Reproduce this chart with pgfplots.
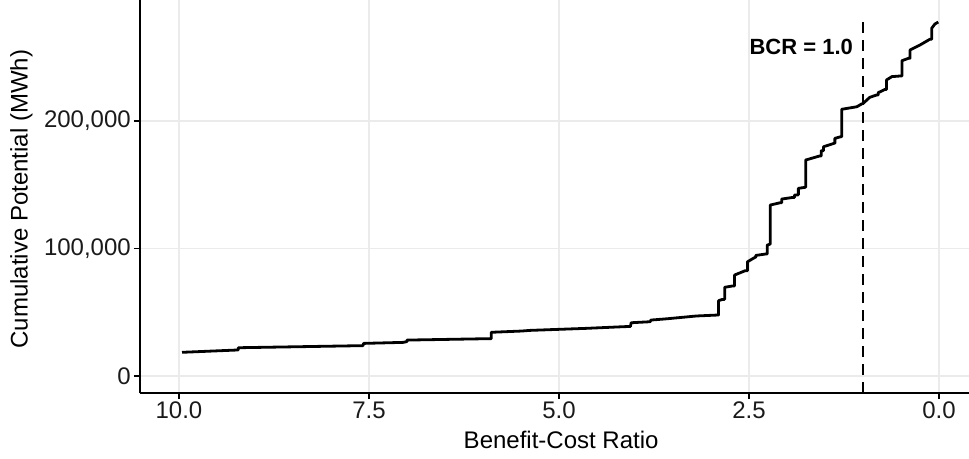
\documentclass[border=0pt]{standalone}
\usepackage{pgfplots}
\pgfplotsset{compat=1.18}
\usepackage{fontspec}
\setmainfont{Liberation Sans}
\definecolor{gridgray}{HTML}{EBEBEB}
\definecolor{ticktext}{HTML}{1A1A1A}
\begin{document}
\begin{tikzpicture}
\begin{axis}[
  scale only axis, width=829bp, height=393bp,
  x dir=reverse,
  xmin=-0.395, xmax=10.513, ymin=-13300, ymax=294900,
  axis x line*=bottom, axis y line*=left,
  axis line style={black, line width=2bp},
  xtick={0,2.5,5,7.5,10}, xticklabels={0.0,2.5,5.0,7.5,10.0},
  ytick={0,100000,200000}, yticklabels={0,{100,000},{200,000}},
  minor tick num=0,
  grid=major, major grid style={color=gridgray, line width=1.8bp},
  tick align=outside, major tick length=6bp,
  tick style={black, line width=1.6bp},
  ticklabel style={font=\fontsize{24bp}{28bp}\selectfont, text=ticktext},
  xticklabel style={inner sep=2bp, yshift=-1bp},
  yticklabel style={inner sep=3bp},
  xlabel={Benefit-Cost Ratio},
  ylabel={Cumulative Potential (MWh)},
  xlabel style={at={(axis description cs:0.508,-0.1196)}, anchor=center, font=\fontsize{24bp}{28bp}\selectfont},
  ylabel style={at={(axis description cs:-0.1429,0.4936)}, anchor=center, font=\fontsize{24bp}{28bp}\selectfont},
  clip=true,
]
\addplot[black, line width=2.3bp, dash pattern=on 11bp off 7bp] coordinates {(1.0,-13300) (1.0,281000)};
\addplot[black, line width=2.8bp, line join=round] coordinates {
(9.96,18600) (9.24,20400) (9.22,20400) (9.22,22200) (7.62,23800) (7.58,23800) (7.57,25600)
(7.05,26400) (7.00,27000) (7.00,28200) (5.93,29300) (5.89,29300) (5.89,34300)
(5.49,35300) (5.38,35800) (4.64,37400) (4.15,38700) (4.06,38900) (4.05,41800)
(3.80,42600) (3.79,43900) (3.58,44900) (3.19,47100) (2.93,47800) (2.917,47800)
(2.90,47800) (2.90,59100) (2.85,60100) (2.82,60100) (2.82,69600) (2.72,70600)
(2.69,70600) (2.69,79200) (2.55,82600) (2.52,82600) (2.52,89600) (2.42,93100)
(2.41,93100) (2.41,94600) (2.28,95700) (2.26,95700) (2.26,102700) (2.23,103300)
(2.22,103300) (2.22,134100) (2.09,135900) (2.07,135900) (2.07,138800) (1.92,140100)
(1.90,140100) (1.90,142000) (1.85,142000) (1.85,147200) (1.76,148000) (1.754,148000)
(1.754,169400) (1.575,172500) (1.55,172500) (1.55,176700) (1.52,176700) (1.52,179800)
(1.38,182500) (1.37,182500) (1.37,186400) (1.29,187700) (1.28,187700) (1.28,209200)
(1.08,211200) (1.02,213300) (0.996,213900) (0.91,218600) (0.82,220400) (0.80,220400)
(0.80,222200) (0.71,224800) (0.69,224800) (0.69,232200) (0.62,234800) (0.51,235300)
(0.487,235300) (0.487,247300) (0.40,249200) (0.38,249200) (0.38,255700) (0.25,259600)
(0.12,264100) (0.096,264100) (0.096,272700) (0.053,276100) (0.009,277600)
};
\node[anchor=east, inner sep=0pt, font=\bfseries\fontsize{22bp}{26bp}\selectfont, text=black] at (axis cs:1.13,258000) {BCR = 1.0};
\end{axis}
\pgfresetboundingbox
\path (-140bp,-66bp) rectangle (829bp,393bp);
\end{tikzpicture}
\end{document}
